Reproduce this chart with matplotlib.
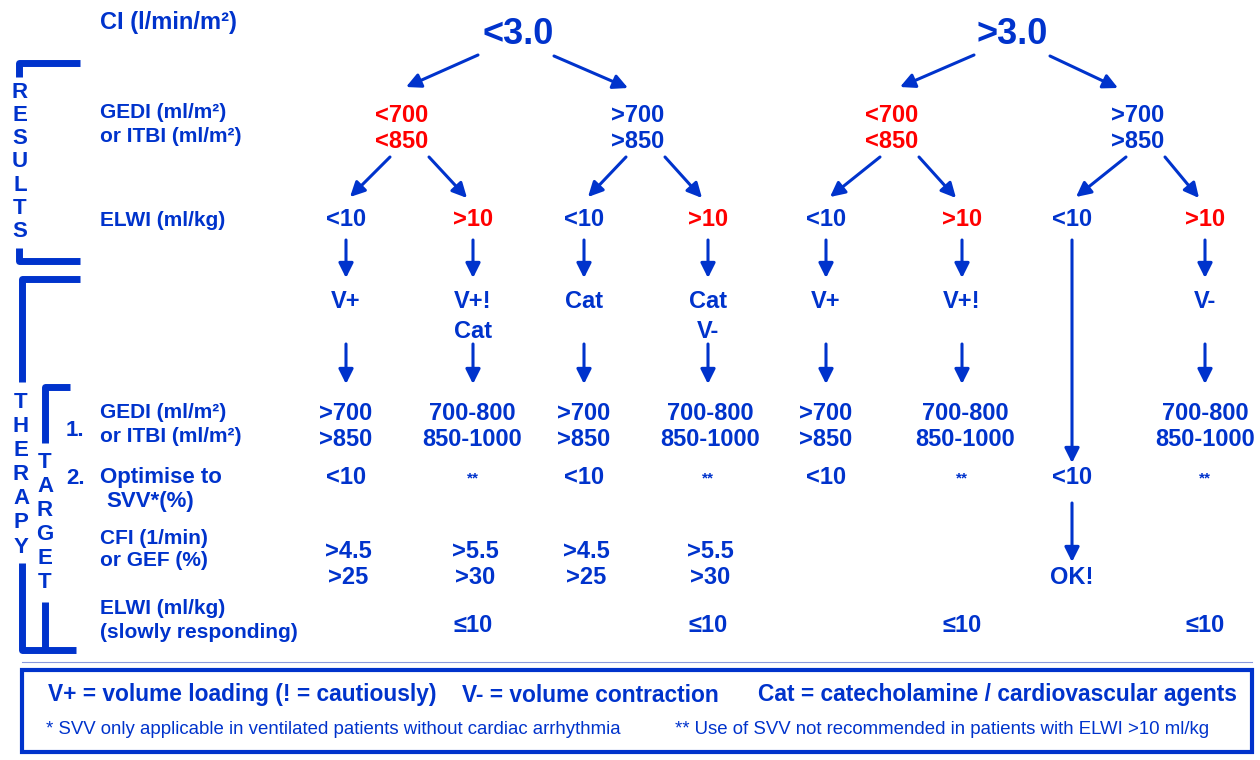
import matplotlib.pyplot as plt

BLUE = '#0033CC'
RED = '#FF0000'

# tree content
ci_labels = ['<3.0', '>3.0']
gedi_labels = [('<700', '<850'), ('>700', '>850'), ('<700', '<850'), ('>700', '>850')]
gedi_colors = [RED, BLUE, RED, BLUE]
elwi_labels = ['<10', '>10', '<10', '>10', '<10', '>10', '<10', '>10']
elwi_colors = [BLUE, RED, BLUE, RED, BLUE, RED, BLUE, RED]
therapy_labels = [('V+',), ('V+!', 'Cat'), ('Cat',), ('Cat', 'V-'), ('V+',), ('V+!',), (), ('V-',)]
target_gedi = [('>700', '>850'), ('700-800', '850-1000'), ('>700', '>850'), ('700-800', '850-1000'),
               ('>700', '>850'), ('700-800', '850-1000'), (), ('700-800', '850-1000')]
target_svv = ['<10', '**', '<10', '**', '<10', '**', '<10', '**']
target_cfi = [('>4.5', '>25'), ('>5.5', '>30'), ('>4.5', '>25'), ('>5.5', '>30'), (), (), ('OK!',), ()]
target_elwi = ['', '≤10', '', '≤10', '', '≤10', '', '≤10']

legend_main = ['V+ = volume loading (! = cautiously)', 'V- = volume contraction',
               'Cat = catecholamine / cardiovascular agents']
legend_notes = ['* SVV only applicable in ventilated patients without cardiac arrhythmia',
                '** Use of SVV not recommended in patients with ELWI >10 ml/kg']

# layout (pixel coordinates)
ci_x = [518, 1012]
gedi_x = [402, 638, 892, 1138]
leaf_x = [346, 473, 584, 708, 826, 962, 1072, 1205]
gedi_val_x = [346, 472, 584, 710, 826, 965, 1072, 1205]

fig = plt.figure(figsize=(12.6, 7.6), dpi=100)
ax = fig.add_axes([0, 0, 1, 1])
ax.set_xlim(0, 1260)
ax.set_ylim(760, 0)
ax.axis('off')

bold = dict(fontfamily='Liberation Sans', fontweight='bold')


def txt(x, y, s, size=17, color=BLUE, ha='center', **kw):
    ax.text(x, y, s, fontsize=size, color=color, ha=ha, va='center', **bold, **kw)


def arrow(x0, y0, x1, y1):
    ax.annotate('', xy=(x1, y1), xytext=(x0, y0),
                arrowprops=dict(arrowstyle='-|>', lw=2.2, color=BLUE, mutation_scale=22,
                                shrinkA=0, shrinkB=0))


# left labels
txt(100, 22, 'CI (l/min/m²)', size=17, ha='left')
txt(100, 113, 'GEDI (ml/m²)', size=15, ha='left')
txt(100, 136, 'or ITBI (ml/m²)', size=15, ha='left')
txt(100, 221, 'ELWI (ml/kg)', size=15, ha='left')
txt(100, 412, 'GEDI (ml/m²)', size=15, ha='left')
txt(100, 436, 'or ITBI (ml/m²)', size=15, ha='left')
txt(66, 430, '1.', size=16, ha='left')
txt(66, 478, '2.', size=16, ha='left')
txt(100, 478, 'Optimise to', size=16, ha='left')
txt(106, 502, 'SVV*(%)', size=16, ha='left')
txt(100, 538, 'CFI (1/min)', size=15, ha='left')
txt(100, 561, 'or GEF (%)', size=15, ha='left')
txt(100, 609, 'ELWI (ml/kg)', size=15, ha='left')
txt(100, 633, '(slowly responding)', size=15, ha='left')

# brackets
lw = 5
ax.plot([80, 19, 19], [63, 63, 77], color=BLUE, lw=lw, solid_capstyle='butt')
ax.plot([19, 19, 80], [248, 261, 261], color=BLUE, lw=lw, solid_capstyle='butt')
for i, ch in enumerate('RESULTS'):
    txt(20, 92 + i * 23.3, ch, size=16)
ax.plot([80, 22, 22], [279, 279, 382], color=BLUE, lw=lw, solid_capstyle='butt')
ax.plot([22, 22, 76], [563, 650, 650], color=BLUE, lw=lw, solid_capstyle='butt')
for i, ch in enumerate('THERAPY'):
    txt(21, 402 + i * 24.2, ch, size=16)
ax.plot([70, 45, 45], [387, 387, 443], color=BLUE, lw=lw, solid_capstyle='butt')
ax.plot([45, 45], [602, 650], color=BLUE, lw=lw, solid_capstyle='butt')
for i, ch in enumerate('TARGET'):
    txt(45, 463 + i * 24, ch, size=16)

# top level
for x, s in zip(ci_x, ci_labels):
    txt(x, 35, s, size=26)
arrow(478, 55, 406, 87)
arrow(554, 56, 628, 88)
arrow(974, 55, 900, 87)
arrow(1050, 56, 1118, 88)

# GEDI level
for x, (a, b), c in zip(gedi_x, gedi_labels, gedi_colors):
    txt(x, 115, a, color=c)
    txt(x, 141, b, color=c)
for x, l, r in zip(gedi_x, leaf_x[0::2], leaf_x[1::2]):
    arrow(x - 12, 157, l + 4, 197)
    arrow(x + 27, 157, r - 6, 198)

# ELWI level
for x, s, c in zip(leaf_x, elwi_labels, elwi_colors):
    txt(x, 219, s, color=c)

# therapy
for i, (x, lines) in enumerate(zip(leaf_x, therapy_labels)):
    if i == 6:
        arrow(x, 240, x, 463)
        arrow(x, 503, x, 562)
        continue
    arrow(x, 240, x, 278)
    for j, s in enumerate(lines):
        txt(x, 302 + j * 30, s)
    arrow(x, 344, x, 384)

# targets
for x, lines in zip(gedi_val_x, target_gedi):
    for j, s in enumerate(lines):
        txt(x, 413 + j * 27, s)
for x, s in zip(leaf_x, target_svv):
    txt(x, 478, s, size=17 if s != '**' else 11)
for x, lines in zip(leaf_x, target_cfi):
    if lines == ('OK!',):
        txt(x, 578, lines[0])
        continue
    for j, s in enumerate(lines):
        txt(x + 2, 551 + j * 27, s)
for x, s in zip(leaf_x, target_elwi):
    if s:
        txt(x, 625, s)

# legend box
ax.plot([22, 1252], [662, 662], color='#8899DD', lw=0.8)
ax.add_patch(plt.Rectangle((22, 670), 1230, 82, fill=False, edgecolor=BLUE, lw=3))
for x, s in zip([48, 462, 758], legend_main):
    txt(x, 695, s, size=16.4, ha='left')
for x, s in zip([46, 675], legend_notes):
    ax.text(x, 730, s, fontsize=13.4, color=BLUE, fontfamily='Liberation Sans', va='center')

fig.savefig('out.png', dpi=100, facecolor='white')
